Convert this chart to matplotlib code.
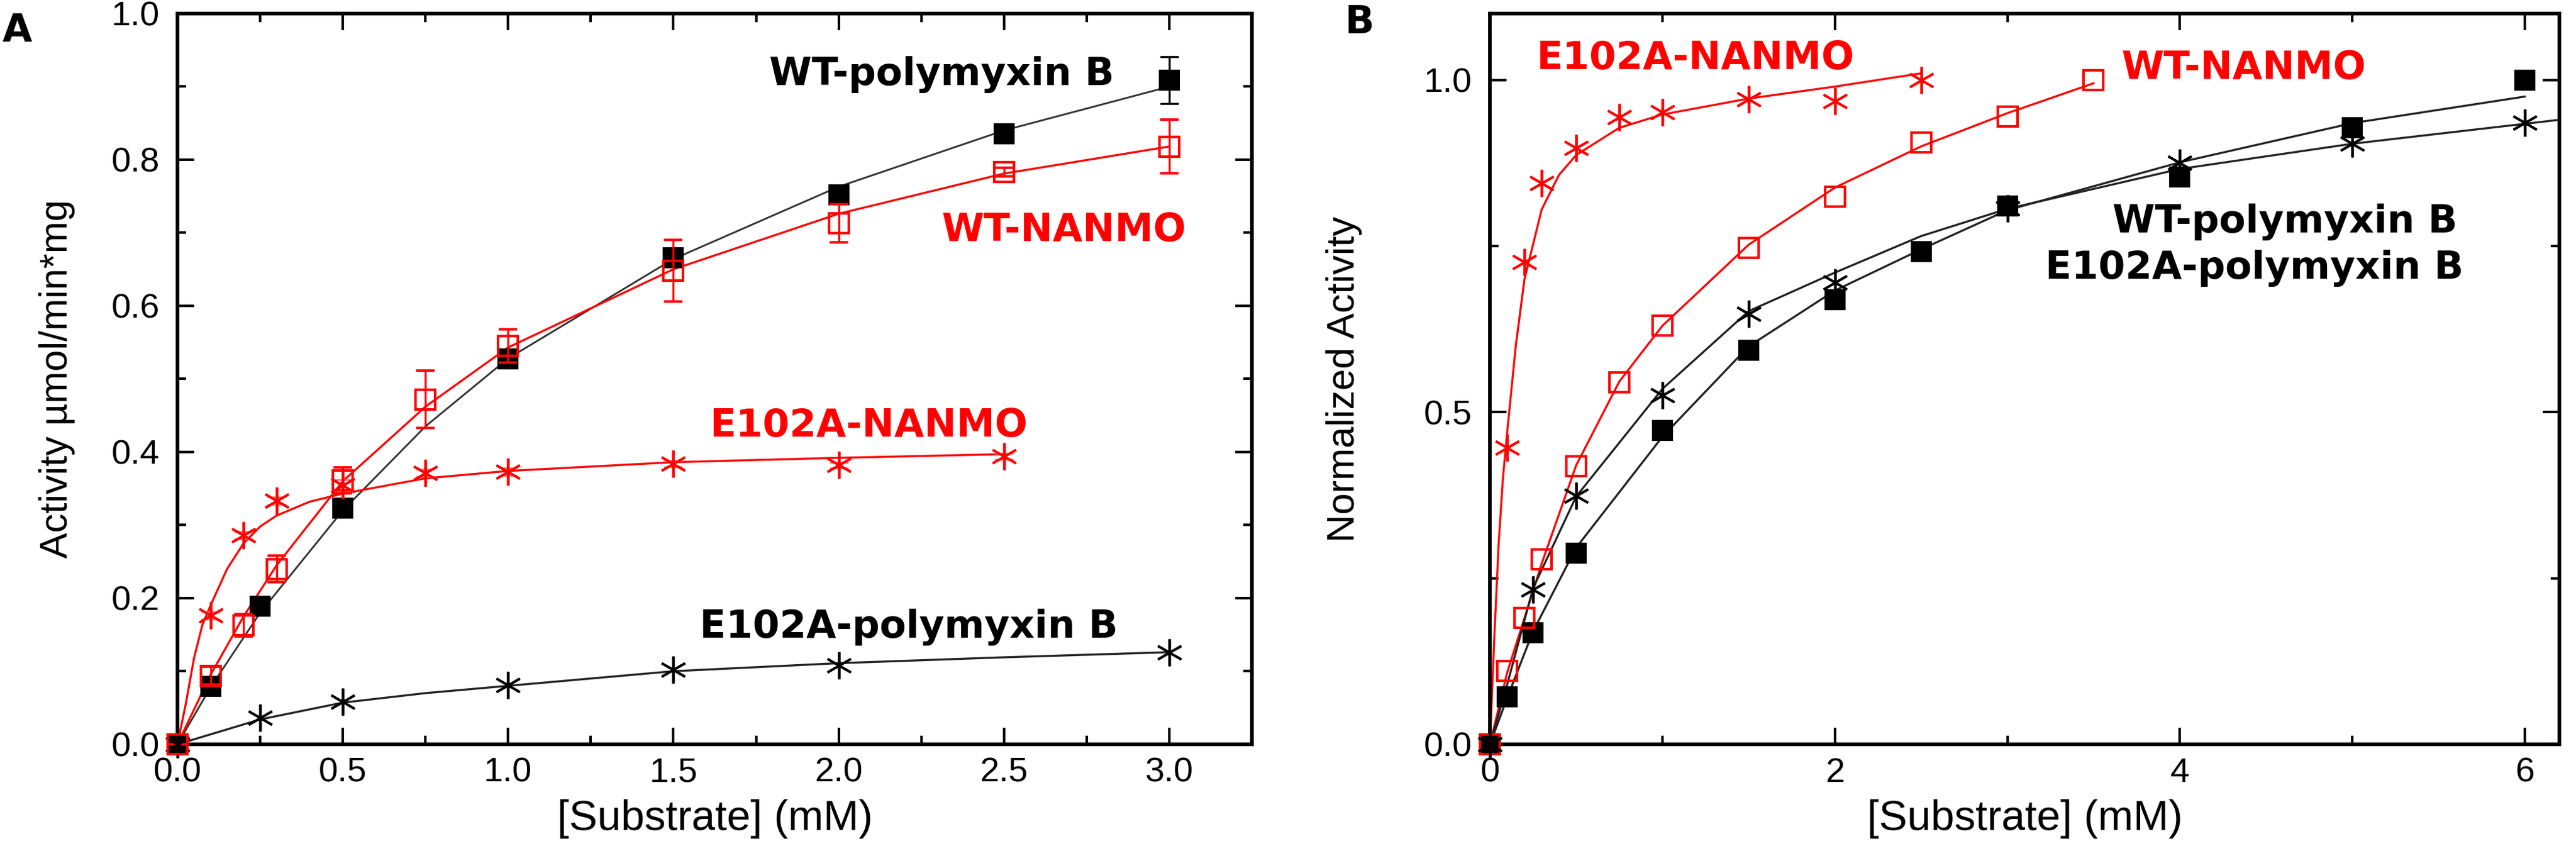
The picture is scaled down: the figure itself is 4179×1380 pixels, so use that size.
import matplotlib
matplotlib.use("Agg")
import matplotlib.pyplot as plt
from matplotlib.ticker import MultipleLocator, FormatStrFormatter

plt.rcParams['font.family'] = ['Liberation Sans', 'DejaVu Sans']

# ---------------- panel A : activity (umol/min*mg) ----------------
a_wt_poly_x = [0, 0.1, 0.25, 0.5, 1.0, 1.5, 2.0, 2.5, 3.0]
a_wt_poly_y = [0, 0.079, 0.189, 0.323, 0.527, 0.666, 0.752, 0.835, 0.909]
a_wt_poly_err = [0, 0, 0, 0, 0, 0, 0, 0, 0.032]

a_wt_nanmo_x = [0, 0.1, 0.2, 0.3, 0.5, 0.75, 1.0, 1.5, 2.0, 2.5, 3.0]
a_wt_nanmo_y = [0, 0.094, 0.163, 0.24, 0.361, 0.472, 0.545, 0.648, 0.713, 0.783, 0.818]
a_wt_nanmo_err = [0, 0.012, 0.015, 0.018, 0.018, 0.039, 0.023, 0.042, 0.026, 0.006, 0.037]

a_mut_nanmo_x = [0, 0.1, 0.2, 0.3, 0.5, 0.75, 1.0, 1.5, 2.0, 2.5]
a_mut_nanmo_y = [0, 0.176, 0.286, 0.333, 0.354, 0.371, 0.373, 0.384, 0.382, 0.394]
a_mut_nanmo_err = [0, 0.005, 0.005, 0.005, 0.008, 0.005, 0.005, 0.004, 0.004, 0.004]

a_mut_poly_x = [0, 0.25, 0.5, 1.0, 1.5, 2.0, 3.0]
a_mut_poly_y = [0, 0.036, 0.058, 0.081, 0.102, 0.108, 0.126]

# fitted curves
a_fit_wt_poly_x = [0, 0.1, 0.25, 0.5, 0.75, 1.0, 1.5, 2.0, 2.5, 3.0]
a_fit_wt_poly_y = [0, 0.078, 0.18, 0.32, 0.435, 0.528, 0.664, 0.763, 0.84, 0.9]
a_fit_wt_nanmo_x = [0, 0.1, 0.2, 0.3, 0.5, 0.75, 1.0, 1.5, 2.0, 2.5, 3.0]
a_fit_wt_nanmo_y = [0, 0.095, 0.175, 0.245, 0.36, 0.462, 0.543, 0.65, 0.726, 0.781, 0.818]
a_fit_mut_nanmo_x = [0, 0.025, 0.05, 0.075, 0.1, 0.15, 0.2, 0.25, 0.3, 0.4, 0.5, 0.75, 1.0, 1.5, 2.0, 2.5]
a_fit_mut_nanmo_y = [0, 0.055, 0.118, 0.163, 0.19, 0.24, 0.275, 0.298, 0.313, 0.332, 0.343, 0.364, 0.374, 0.386, 0.392, 0.397]
a_fit_mut_poly_x = [0, 0.25, 0.5, 0.75, 1.0, 1.5, 2.0, 2.5, 3.0]
a_fit_mut_poly_y = [0, 0.034, 0.057, 0.07, 0.08, 0.1, 0.111, 0.119, 0.126]

# ---------------- panel B : normalized activity ----------------
b_mut_nanmo_x = [0, 0.1, 0.2, 0.3, 0.5, 0.75, 1.0, 1.5, 2.0, 2.5]
b_mut_nanmo_y = [0, 0.446, 0.726, 0.845, 0.898, 0.944, 0.951, 0.971, 0.968, 1.0]

b_wt_nanmo_x = [0, 0.1, 0.2, 0.3, 0.5, 0.75, 1.0, 1.5, 2.0, 2.5, 3.0, 3.5]
b_wt_nanmo_y = [0, 0.110, 0.190, 0.278, 0.419, 0.545, 0.630, 0.747, 0.824, 0.906, 0.945, 1.0]

b_wt_poly_x = [0, 0.1, 0.25, 0.5, 1.0, 1.5, 2.0, 2.5, 3.0, 4.0, 5.0, 6.0]
b_wt_poly_y = [0, 0.071, 0.168, 0.288, 0.472, 0.593, 0.669, 0.742, 0.81, 0.854, 0.928, 1.0]

b_mut_poly_x = [0, 0.25, 0.5, 1.0, 1.5, 2.0, 3.0, 4.0, 5.0, 6.0]
b_mut_poly_y = [0, 0.233, 0.374, 0.525, 0.648, 0.695, 0.807, 0.875, 0.904, 0.936]

b_fit_mut_nanmo_x = [0, 0.025, 0.05, 0.075, 0.1, 0.15, 0.2, 0.3, 0.4, 0.5, 0.75, 1.0, 1.5, 2.0, 2.5]
b_fit_mut_nanmo_y = [0, 0.16, 0.3, 0.4, 0.47, 0.6, 0.7, 0.805, 0.857, 0.887, 0.928, 0.948, 0.972, 0.99, 1.01]
b_fit_wt_nanmo_x = [0, 0.1, 0.2, 0.3, 0.5, 0.75, 1.0, 1.5, 2.0, 2.5, 3.0, 3.5]
b_fit_wt_nanmo_y = [0, 0.108, 0.19, 0.272, 0.42, 0.546, 0.63, 0.752, 0.838, 0.9, 0.95, 0.995]
b_fit_wt_poly_x = [0, 0.1, 0.25, 0.5, 1.0, 1.5, 2.0, 2.5, 3.0, 4.0, 5.0, 6.0]
b_fit_wt_poly_y = [0, 0.07, 0.17, 0.296, 0.463, 0.599, 0.683, 0.745, 0.804, 0.876, 0.935, 0.975]
b_fit_mut_poly_x = [0, 0.1, 0.25, 0.5, 1.0, 1.5, 2.0, 2.5, 3.0, 4.0, 5.0, 6.2]
b_fit_mut_poly_y = [0, 0.09, 0.235, 0.373, 0.535, 0.652, 0.71, 0.765, 0.806, 0.866, 0.904, 0.94]

RED = '#ff0000'
star = (6, 2, 0)

fig = plt.figure(figsize=(4179 / 300, 1380 / 300), dpi=300)
axA = fig.add_axes([0.0689, 0.1254, 0.4171, 0.8587])
axB = fig.add_axes([0.5784, 0.1254, 0.4151, 0.8587])


def style(ax):
    for s in ax.spines.values():
        s.set_linewidth(1.4)
    ax.tick_params(which='both', direction='in', top=True, right=True, width=1.0,
                   labelsize=13.5)
    ax.tick_params(axis='x', which='both', pad=5)
    ax.tick_params(axis='y', which='both', pad=7)
    ax.tick_params(which='major', length=6.4)
    ax.tick_params(which='minor', length=3.4)


# panel A
axA.plot(a_fit_wt_poly_x, a_fit_wt_poly_y, color='#333333', lw=0.7)
axA.plot(a_fit_wt_nanmo_x, a_fit_wt_nanmo_y, color=RED, lw=0.8)
axA.plot(a_fit_mut_nanmo_x, a_fit_mut_nanmo_y, color=RED, lw=0.8)
axA.plot(a_fit_mut_poly_x, a_fit_mut_poly_y, color='#222222', lw=0.8)

axA.errorbar(a_wt_poly_x, a_wt_poly_y, yerr=a_wt_poly_err, fmt='s', color='k', ms=7,
             elinewidth=0.8, capsize=3.5, capthick=0.8, clip_on=False, zorder=4)
axA.errorbar(a_wt_nanmo_x, a_wt_nanmo_y, yerr=a_wt_nanmo_err, fmt='s', mfc='none', mec=RED,
             ecolor=RED, ms=7.5, mew=1.0, elinewidth=0.8, capsize=3.5, capthick=0.8,
             clip_on=False, zorder=5)
axA.errorbar(a_mut_nanmo_x, a_mut_nanmo_y, yerr=a_mut_nanmo_err, fmt='none', ecolor='#ff6666',
             elinewidth=0.6, capsize=3.5, capthick=0.6, zorder=4)
axA.plot(a_mut_nanmo_x, a_mut_nanmo_y, ls='none', marker=star, ms=10.5, mec=RED, mew=0.9,
         clip_on=False, zorder=5)
axA.plot(a_mut_poly_x, a_mut_poly_y, ls='none', marker=star, ms=10.5, mec='k', mew=0.9,
         clip_on=False, zorder=5)

axA.set_xlim(0, 3.25)
axA.set_ylim(0, 1.0)
axA.xaxis.set_major_locator(MultipleLocator(0.5))
axA.xaxis.set_minor_locator(MultipleLocator(0.25))
axA.yaxis.set_major_locator(MultipleLocator(0.2))
axA.yaxis.set_minor_locator(MultipleLocator(0.1))
axA.xaxis.set_major_formatter(FormatStrFormatter('%.1f'))
axA.yaxis.set_major_formatter(FormatStrFormatter('%.1f'))
style(axA)
axA.set_xlabel('[Substrate] (mM)', fontsize=16.5, labelpad=4)
axA.set_ylabel('Activity \u00b5mol/min*mg', fontsize=15, labelpad=14)

ann = dict(fontsize=15, fontweight='bold', family='DejaVu Sans', va='center', ha='left')
axA.text(1.79, 0.916, 'WT-polymyxin B', color='k', **ann)
axA.text(2.31, 0.703, 'WT-NANMO', color=RED, **ann)
axA.text(1.61, 0.435, 'E102A-NANMO', color=RED, **ann)
axA.text(1.58, 0.160, 'E102A-polymyxin B', color='k', **ann)

# panel B
axB.plot(b_fit_mut_nanmo_x, b_fit_mut_nanmo_y, color=RED, lw=0.8)
axB.plot(b_fit_wt_nanmo_x, b_fit_wt_nanmo_y, color=RED, lw=0.8)
axB.plot(b_fit_wt_poly_x, b_fit_wt_poly_y, color='#222222', lw=0.8)
axB.plot(b_fit_mut_poly_x, b_fit_mut_poly_y, color='#222222', lw=0.8)

axB.plot(b_mut_nanmo_x, b_mut_nanmo_y, ls='none', marker=star, ms=10.5, mec=RED, mew=0.9,
         clip_on=False, zorder=5)
axB.plot(b_wt_nanmo_x, b_wt_nanmo_y, ls='none', marker='s', ms=7.5, mfc='none', mec=RED, mew=1.0,
         clip_on=False, zorder=5)
axB.plot(b_wt_poly_x, b_wt_poly_y, ls='none', marker='s', ms=7, color='k',
         clip_on=False, zorder=4)
axB.plot(b_mut_poly_x, b_mut_poly_y, ls='none', marker=star, ms=10.5, mec='k', mew=0.9,
         clip_on=False, zorder=5)

axB.set_xlim(0, 6.2)
axB.set_ylim(0, 1.1)
axB.xaxis.set_major_locator(MultipleLocator(2))
axB.xaxis.set_minor_locator(MultipleLocator(1))
axB.yaxis.set_major_locator(MultipleLocator(0.5))
axB.yaxis.set_minor_locator(MultipleLocator(0.25))
axB.yaxis.set_major_formatter(FormatStrFormatter('%.1f'))
style(axB)
axB.set_xlabel('[Substrate] (mM)', fontsize=16.5, labelpad=4)
axB.set_ylabel('Normalized Activity', fontsize=15, labelpad=24)

axB.text(0.27, 1.032, 'E102A-NANMO', color=RED, **ann)
axB.text(3.66, 1.017, 'WT-NANMO', color=RED, **ann)
axB.text(3.61, 0.786, 'WT-polymyxin B', color='k', **ann)
axB.text(3.22, 0.717, 'E102A-polymyxin B', color='k', **ann)

fig.text(0.001, 0.985, 'A', fontsize=15, fontweight='bold', family='DejaVu Sans', va='top', ha='left')
fig.text(0.522, 0.995, 'B', fontsize=15, fontweight='bold', family='DejaVu Sans', va='top', ha='left')

fig.savefig('out.png', dpi=300)
